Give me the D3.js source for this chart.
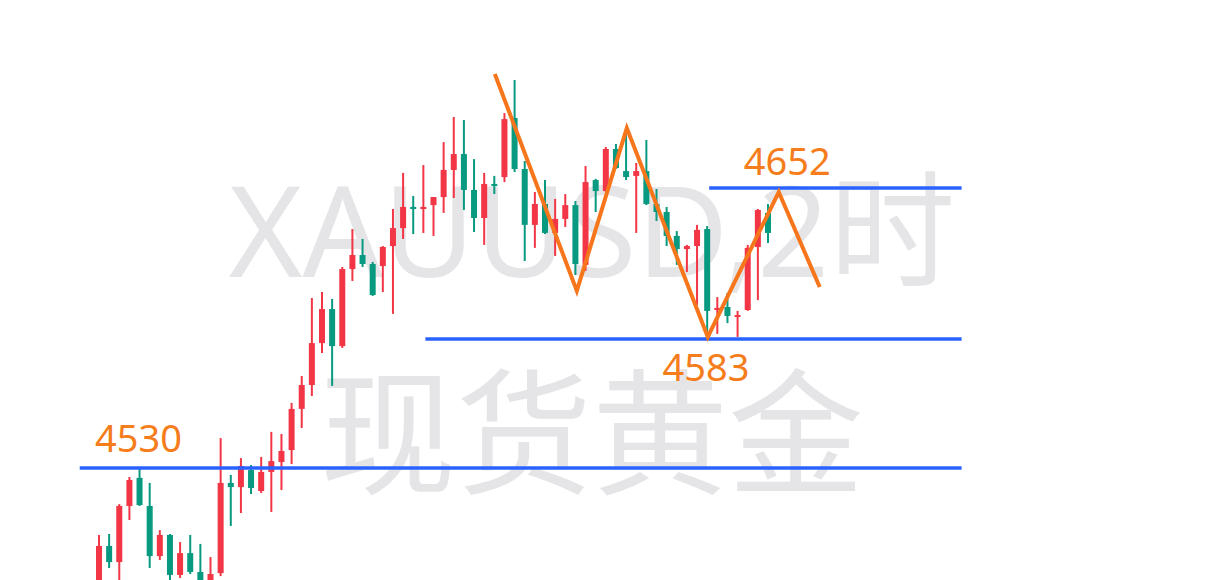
<!DOCTYPE html>
<html><head><meta charset="utf-8">
<script src="https://cdn.jsdelivr.net/npm/d3@7"></script>
<style>html,body{margin:0;padding:0;background:#fff;overflow:hidden}</style>
</head><body><svg id="c" width="1218" height="580"></svg>
<script>
// Candle data (Chinese convention: red = up, green = down)
const opens  = [4479.1,4496.1,4489.1,4513.5,4525.7,4513.5,4491.7,4500.9,4483.5,4493.0,4484.8,4479.6,4484.3,4523.5,4521.7,4529.1,4520.0,4528.3,4532.6,4537.8,4555.7,4566.1,4584.3,4599.1,4583.0,4616.5,4622.6,4618.7,4617.8,4626.5,4634.3,4643.5,4642.6,4644.3,4647.8,4659.6,4666.5,4650.9,4638.7,4653.5,4656.5,4682.2,4660.0,4635.7,4644.8,4632.2,4638.3,4644.3,4618.3,4655.2,4650.4,4668.7,4659.1,4657.0,4659.1,4644.8,4641.3,4630.9,4625.2,4626.5,4633.9,4598.7,4600.0,4595.7,4598.7,4626.1,4640.9];
const highs  = [4500.9,4501.3,4514.3,4526.1,4530.4,4523.5,4503.0,4501.3,4497.8,4500.9,4497.0,4491.3,4543.0,4527.0,4534.3,4531.3,4534.8,4545.7,4544.8,4558.3,4570.0,4603.9,4606.5,4603.5,4617.4,4633.9,4629.6,4619.6,4626.5,4642.6,4658.3,4648.3,4661.7,4647.8,4671.7,4682.6,4681.3,4664.3,4658.3,4657.0,4684.3,4698.7,4663.5,4650.0,4655.2,4647.0,4649.1,4646.1,4661.3,4655.7,4669.6,4670.9,4677.0,4662.6,4672.6,4651.3,4643.5,4633.0,4627.0,4635.7,4635.2,4604.3,4606.1,4598.3,4627.0,4642.6,4644.8];
const lows   = [4477.0,4486.5,4481.3,4507.4,4513.5,4486.5,4490.0,4481.3,4482.2,4483.9,4478.7,4477.8,4483.0,4504.8,4510.4,4518.7,4519.1,4510.9,4520.4,4531.7,4547.4,4561.3,4580.0,4565.7,4582.2,4611.3,4617.4,4604.8,4606.5,4597.0,4629.6,4631.7,4632.2,4630.9,4640.9,4647.4,4642.2,4632.6,4627.0,4649.1,4654.3,4658.7,4620.0,4625.7,4631.7,4622.2,4634.8,4613.9,4615.7,4641.3,4650.0,4660.0,4655.2,4632.2,4644.3,4637.4,4626.5,4618.3,4615.2,4600.9,4587.0,4588.3,4593.0,4587.0,4598.3,4603.0,4627.8];
const closes = [4496.1,4489.1,4513.5,4524.8,4513.9,4491.7,4500.9,4483.5,4493.0,4484.8,4480.4,4483.9,4523.5,4521.7,4530.9,4521.3,4528.3,4533.0,4537.4,4555.7,4566.1,4584.3,4599.1,4583.0,4616.5,4622.6,4618.7,4605.2,4626.1,4634.3,4643.5,4642.6,4643.5,4647.8,4659.6,4666.5,4650.9,4638.7,4653.5,4653.0,4681.7,4660.0,4635.7,4644.8,4632.2,4638.3,4644.3,4618.7,4654.3,4650.4,4668.7,4660.4,4656.5,4659.1,4644.8,4641.3,4630.9,4625.2,4626.5,4633.5,4598.3,4599.6,4596.1,4596.5,4625.7,4642.2,4632.2];

// Horizontal levels (blue lines) and their labels
const levelPrices = [4530.0, 4586.1, 4651.7];
const levelStart  = [-1.9, 32.2, 60.2];
const levelEnd    = [85.1, 85.1, 85.1];
const levelLabels = ["4530", "4583", "4652"];
const labelIdx    = [-0.4, 55.6, 63.6];
const labelPrice  = [4537.0, 4567.8, 4657.4];

// Orange zigzag pattern (bar index, price)
const zigIdx   = [39.05, 47.14, 52.07, 60.06, 67.06, 71.1];
const zigPrice = [4701.3, 4607.0, 4677.8, 4587.0, 4650.0, 4608.7];

// Watermark
const watermark = ["XAUUSD,2时", "现货黄金"];

const svg = d3.select("#c");
const x = d3.scaleLinear().domain([0, 66]).range([99, 768]);
const y = d3.scaleLinear().domain([4500, 4700]).range([537, 77]);

// watermark
svg.append("text").attr("x", 592).attr("y", 277).attr("text-anchor", "middle")
  .attr("font-family", "Noto Sans, Noto Sans CJK SC, sans-serif").attr("font-size", 126)
  .attr("fill", "#e5e5e8").text(watermark[0]);
svg.append("text").attr("x", 592).attr("y", 484).attr("text-anchor", "middle")
  .attr("font-family", "Noto Sans CJK SC, sans-serif").attr("font-size", 136)
  .attr("fill", "#e5e5e8").text(watermark[1]);

const candles = opens.map((o, i) => ({i, o, h: highs[i], l: lows[i], c: closes[i]}));
const up = "#f23645", down = "#089981";
const g = svg.append("g");
g.selectAll("line.w").data(candles).join("line")
  .attr("x1", d => x(d.i)).attr("x2", d => x(d.i))
  .attr("y1", d => y(d.h)).attr("y2", d => y(d.l))
  .attr("stroke", d => d.c >= d.o ? up : down).attr("stroke-width", 2);
g.selectAll("rect.b").data(candles).join("rect")
  .attr("x", d => x(d.i) - 3).attr("width", 6)
  .attr("y", d => y(Math.max(d.o, d.c)))
  .attr("height", d => Math.max(2, Math.abs(y(d.o) - y(d.c))))
  .attr("fill", d => d.c >= d.o ? up : down);

// blue levels
levelPrices.forEach((p, k) => {
  svg.append("line").attr("x1", x(levelStart[k])).attr("x2", x(levelEnd[k]))
    .attr("y1", y(p)).attr("y2", y(p)).attr("stroke", "#2962ff").attr("stroke-width", 3.5);
});

// zigzag
const line = d3.line().x(d => x(d[0])).y(d => y(d[1]));
svg.append("path").datum(zigIdx.map((v, k) => [v, zigPrice[k]]))
  .attr("d", line).attr("fill", "none").attr("stroke", "#f7761b")
  .attr("stroke-width", 4).attr("stroke-linejoin", "miter");

// labels
levelLabels.forEach((t, k) => {
  svg.append("text").attr("x", x(labelIdx[k])).attr("y", y(labelPrice[k]))
    .attr("font-family", "Noto Sans, sans-serif").attr("font-size", 38)
    .attr("fill", "#f57d1c").text(t);
});
</script></body></html>
